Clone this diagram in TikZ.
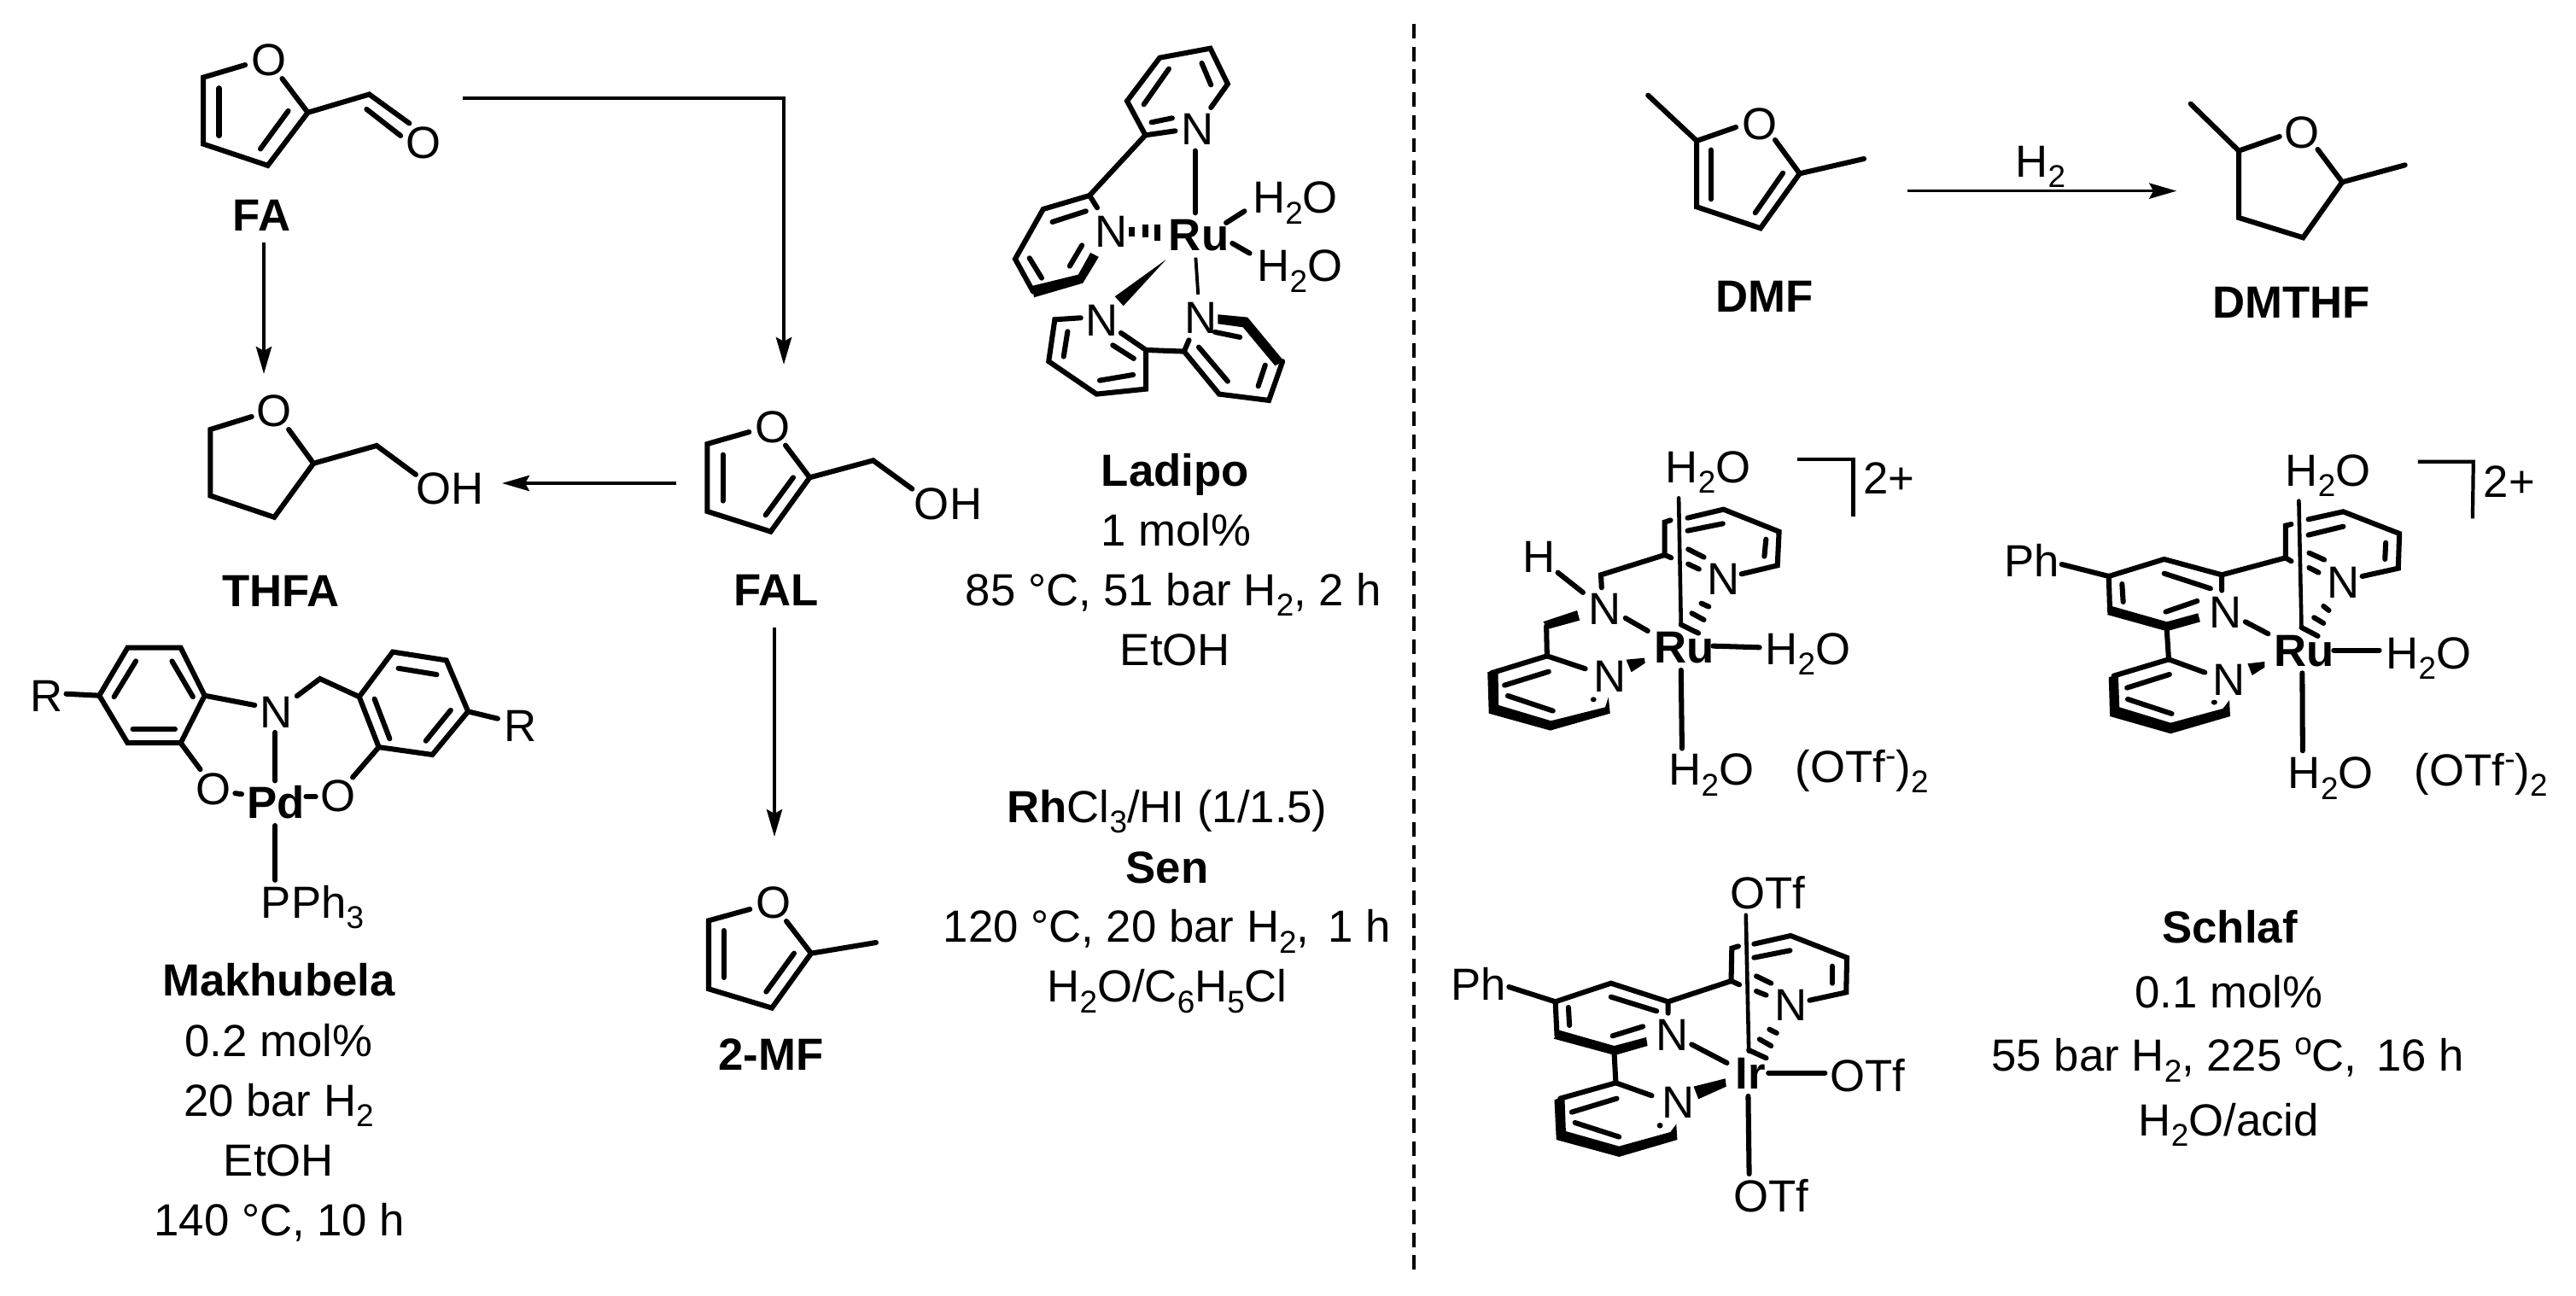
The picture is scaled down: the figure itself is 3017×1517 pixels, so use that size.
\documentclass[tikz,border=0pt]{standalone}
\usepackage{fontspec}
\setmainfont{Liberation Sans}
\usetikzlibrary{arrows.meta}
\newcommand{\sbs}[1]{\raisebox{-3.5pt}{\fontsize{10.5}{10.5}\selectfont #1}}
\newcommand{\sps}[1]{\raisebox{5.5pt}{\fontsize{10.5}{10.5}\selectfont #1}}
\tikzset{
  fr/.style n args={4}{shift={(#1,#2)},x={0.284528pt/#3},y={-0.284528pt/#4}},
  bnd/.style={line width=1.72pt,line cap=round,line join=miter},
  thn/.style={line width=1pt},
  rxn/.style={line width=1.05pt,-{Stealth[length=9.1pt,width=5.2pt,inset=1.4pt]}},
  lb/.style={inner sep=0pt,outer sep=0pt,anchor=base west,font=\fontsize{15}{18}\selectfont},
  lc/.style={inner sep=0pt,outer sep=0pt,anchor=base,font=\fontsize{15}{18}\selectfont},
  blk/.style={fill=black,draw=none},
  sep/.style={line width=1.3pt,dash pattern=on 4.8pt off 2.8pt}
}
\begin{document}
\begin{tikzpicture}[x=0.284528pt,y=-0.284528pt]
\path[use as bounding box,fill=white] (0,0) rectangle (3017,1517);

% separator
\coordinate (sepA) at (1656,28);
\coordinate (sepB) at (1656,1491);
\draw[sep] (sepA) -- (sepB);

% connectors
\coordinate (faOut) at (542,115);
\coordinate (faCorner) at (918,115);
\coordinate (falIn) at (918,427);
\coordinate (faDown) at (309,284);
\coordinate (thfaIn) at (309,438);
\coordinate (falLeft) at (792,566);
\coordinate (thfaOut) at (588,566);
\coordinate (falDown) at (907,735);
\coordinate (mfIn) at (907,980);
\draw[rxn] (faOut) -- (faCorner) -- (falIn);
\draw[rxn] (faDown) -- (thfaIn);
\draw[rxn] (falLeft) -- (thfaOut);
\draw[rxn] (falDown) -- (mfIn);

% FA / THFA
\begin{scope}[fr={0}{0}{1.96}{2.063}]
\draw[bnd] (563,157) -- (467,187) -- (467,348) -- (615,400) -- (707,272) -- (648,190);
\draw[bnd] (707,272) -- (848,228) -- (940,298);
\draw[bnd] (842,264) -- (920,328);
\draw[bnd] (503,213) -- (503,328);
\draw[bnd] (662,268) -- (598,360);
\node[lb] (faO) at (577,183) {O};
\node[lb] (faO2) at (933,383) {O};
\node[lb] (faL) at (535,558) {\bfseries FA};
\draw[bnd] (578,1007) -- (483,1038) -- (483,1198) -- (630,1250) -- (720,1120) -- (663,1038);
\draw[bnd] (720,1120) -- (865,1077) -- (955,1147);
\node[lb] (thO) at (590,1030) {O};
\node[lb] (thOH) at (956,1218) {OH};
\node[lc] (thL) at (645,1465) {\bfseries THFA};
\end{scope}

% Makhubela
\begin{scope}[fr={0}{740}{1.96}{2.036}]
\draw[bnd] (293,38) -- (415,38) -- (470,152) -- (415,265) -- (293,265) -- (228,152) -- cycle;
\draw[bnd] (395,70) -- (443,155);
\draw[bnd] (305,232) -- (402,232);
\draw[bnd] (312,70) -- (262,155);
\draw[bnd] (152,148) -- (228,152);
\draw[bnd] (470,152) -- (585,175);
\draw[bnd] (682,153) -- (735,112) -- (825,155);
\draw[bnd] (825,155) -- (902,48) -- (1025,68) -- (1075,190) -- (993,293) -- (870,275) -- cycle;
\draw[bnd] (915,87) -- (1003,102);
\draw[bnd] (1035,187) -- (978,260);
\draw[bnd] (860,160) -- (895,255);
\draw[bnd] (1075,190) -- (1143,207);
\draw[bnd] (415,265) -- (460,328);
\draw[bnd] (870,275) -- (810,347);
\draw[bnd] (632,240) -- (632,355);
\draw[bnd] (540,385) -- (555,387);
\draw[bnd] (703,393) -- (725,393);
\draw[bnd] (632,462) -- (632,592);
\node[lb] (mkR1) at (70,190) {R};
\node[lb] (mkR2) at (1158,262) {R};
\node[lb] (mkN) at (598,228) {N};
\node[lb] (mkO1) at (451,413) {O};
\node[lb] (mkO2) at (736,428) {O};
\node[lb] (mkPd) at (568,445) {\bfseries Pd};
\node[lb] (mkP) at (600,682) {PPh\sbs{3}};
\node[lc] (mkT1) at (640,868) {\bfseries Makhubela};
\node[lc] (mkT2) at (640,1012) {0.2 mol\%};
\node[lc] (mkT3) at (640,1155) {20 bar H\sbs{2}};
\node[lc] (mkT4) at (640,1297) {EtOH};
\node[lc] (mkT5) at (642,1440) {140 °C, 10 h};
\end{scope}

% FAL
\begin{scope}[fr={780}{400}{3}{3}]
\draw[bnd] (292,318) -- (145,360) -- (145,597) -- (368,668) -- (505,478) -- (420,365);
\draw[bnd] (505,478) -- (728,418) -- (865,518);
\draw[bnd] (200,398) -- (200,560);
\draw[bnd] (447,478) -- (350,610);
\node[lb] (falO) at (313,355) {O};
\node[lb] (falOH) at (873,625) {OH};
\node[lb] (falL) at (238,928) {\bfseries FAL};
\end{scope}

% 2-MF
\begin{scope}[fr={780}{800}{3}{3}]
\draw[bnd] (295,795) -- (150,835) -- (150,1075) -- (372,1142) -- (510,950) -- (423,837);
\draw[bnd] (510,950) -- (738,912);
\draw[bnd] (203,870) -- (203,1035);
\draw[bnd] (450,950) -- (352,1085);
\node[lb] (mfO) at (316,828) {O};
\node[lb] (mfL) at (185,1360) {\bfseries 2-MF};
\end{scope}

% Ladipo structure
\begin{scope}[fr={1120}{40}{2.8}{3}]
\draw[bnd] (718,340) -- (620,355) -- (560,235) -- (667,83) -- (833,50) -- (890,175) -- (835,258);
\draw[bnd] (697,122) -- (615,247);
\draw[bnd] (805,102) -- (835,178);
\draw[bnd] (640,310) -- (708,295);
\draw[bnd] (783,410) -- (783,628);
\draw[bnd] (620,355) -- (437,567);
\draw[bnd] (462,610) -- (437,567) -- (285,615) -- (193,790) -- (252,905);
\fill[blk] (248,885) -- (400,845) -- (440,768) -- (467,783) -- (415,875) -- (255,925) -- cycle;
\draw[bnd] (425,622) -- (315,660);
\draw[bnd] (240,787) -- (280,857);
\draw[bnd] (412,742) -- (372,815);
\draw[line width=1.9pt] (575,677) -- (575,710);
\draw[line width=1.9pt] (620,670) -- (620,715);
\draw[line width=1.9pt] (660,668) -- (660,725);
\draw[bnd] (885,663) -- (945,622);
\draw[bnd] (905,735) -- (962,770);
\fill[blk] (688,792) -- (520,922) -- (548,955) -- cycle;
\draw[thn,line width=1.1pt] (785,785) -- (793,915);
\draw[bnd] (408,997) -- (323,1003) -- (303,1150) -- (460,1265) -- (622,1247) -- (622,1110) -- (540,1050);
\draw[bnd] (365,1045) -- (352,1133);
\draw[bnd] (470,1217) -- (580,1197);
\draw[bnd] (582,1140) -- (513,1093);
\draw[bnd] (622,1110) -- (747,1115);
\draw[bnd] (763,1075) -- (747,1115) -- (862,1265) -- (1025,1287) -- (1070,1150);
\fill[blk] (858,985) -- (955,995) -- (1075,1150) -- (1045,1165) -- (940,1030) -- (858,1018) -- cycle;
\draw[bnd] (795,1100) -- (890,1220);
\draw[bnd] (1013,1163) -- (990,1237);
\draw[bnd] (848,1047) -- (930,1065);
\node[lb] (ldN1) at (738,390) {N};
\node[lb] (ldN2) at (455,750) {N};
\node[lb] (ldRu) at (697,762) {\bfseries Ru};
\node[lb] (ldW1) at (972,630) {H\sbs{2}O};
\node[lb] (ldW2) at (987,870) {H\sbs{2}O};
\node[lb] (ldN3) at (425,1062) {N};
\node[lb] (ldN4) at (748,1052) {N};
\end{scope}

% Ladipo text
\begin{scope}[fr={1100}{500}{2.703}{3}]
\node[lc] (ldT1) at (747,207) {\bfseries Ladipo};
\node[lc] (ldT2) at (750,418) {1 mol\%};
\node[lc] (ldT3) at (742,628) {85 °C, 51 bar H\sbs{2}, 2 h};
\node[lc] (ldT4) at (747,838) {EtOH};
\end{scope}

% Sen text
\begin{scope}[fr={1100}{900}{2.703}{3}]
\node[lc] (snT1) at (722,190) {\textbf{Rh}Cl\sbs{3}/HI (1/1.5)};
\node[lc] (snT2) at (722,402) {\bfseries Sen};
\node[lc] (snT3) at (722,612) {120 °C, 20 bar H\sbs{2},\hspace{0.15em} 1 h};
\node[lc] (snT4) at (722,822) {H\sbs{2}O/C\sbs{6}H\sbs{5}Cl};
\end{scope}

% DMF -> DMTHF
\begin{scope}[fr={1880}{60}{1.633}{3}]
\draw[bnd] (82,155) -- (175,315);
\draw[bnd] (250,267) -- (175,315) -- (175,547) -- (297,622) -- (372,430) -- (325,312);
\draw[bnd] (372,430) -- (495,378);
\draw[bnd] (202,347) -- (202,520);
\draw[bnd] (340,428) -- (287,568);
\node[lb] (dmO) at (262,310) {O};
\node[lc] (dmL) at (305,918) {\bfseries DMF};
\coordinate (dmOut) at (578,491);
\coordinate (dthIn) at (1093,491);
\draw[rxn] (dmOut) -- (dthIn);
\node[lb] (dmH) at (785,442) {H\sbs{2}};
\draw[bnd] (1120,185) -- (1212,350);
\draw[bnd] (1290,300) -- (1212,350) -- (1212,585) -- (1335,655) -- (1410,460) -- (1363,345);
\draw[bnd] (1410,460) -- (1530,400);
\node[lb] (dtO) at (1300,340) {O};
\node[lc] (dtL) at (1313,938) {\bfseries DMTHF};
\end{scope}

% Ru complex (left)
\begin{scope}[fr={1720}{500}{2.613}{3}]
\draw[bnd,line width=1.3pt] (643,250) -- (650,695);
\draw[bnd] (650,695) -- (703,725);
\draw[bnd] (618,328) -- (600,335) -- (600,450) -- (620,460);
\draw[bnd] (600,450) -- (405,520) -- (407,565);
\draw[bnd] (670,320) -- (780,290) -- (950,368) -- (945,487) -- (835,517);
\draw[bnd] (670,365) -- (778,340);
\draw[bnd] (910,395) -- (905,455);
\draw[bnd] (672,430) -- (720,458);
\draw[bnd] (672,482) -- (705,500);
\draw[bnd] (712,620) -- (735,632);
\draw[bnd] (683,655) -- (720,678);
\draw[bnd] (273,512) -- (350,582);
\draw[bnd] (480,672) -- (548,717);
\fill[blk] (228,685) -- (332,645) -- (340,680) -- (245,710) -- cycle;
\draw[bnd] (238,700) -- (240,805);
\draw[bnd] (240,805) -- (357,850);
\draw[bnd] (240,805) -- (70,865);
\fill[blk] (58,862) -- (62,1007) -- (250,1067) -- (433,1007) -- (428,950) -- (418,985) -- (252,1033) -- (92,978) -- (90,853) -- cycle;
\draw[bnd] (245,860) -- (110,908);
\draw[bnd] (120,945) -- (258,998);
\fill[blk] (382,958) circle [x radius=9,y radius=9];
\fill[blk] (482,818) -- (538,812) -- (540,830) -- (498,862) -- cycle;
\draw[bnd] (748,770) -- (890,775);
\draw[bnd] (650,855) -- (653,1130);
\draw[thn,line width=1.2pt] (1005,113) -- (1177,113) -- (1177,315);
\node[lb] (r1W1) at (603,195) {H\sbs{2}O};
\node[lb] (r1N1) at (730,590) {N};
\node[lb] (r1N2) at (367,695) {N};
\node[lb] (r1H) at (165,513) {H};
\node[lb] (r1N3) at (383,933) {N};
\node[lb] (r1Ru) at (567,830) {\bfseries Ru};
\node[lb] (r1W2) at (908,835) {H\sbs{2}O};
\node[lb] (r1W3) at (613,1260) {H\sbs{2}O};
\node[lb] (r1O) at (1000,1250) {(OTf\sps{-})\sbs{2}};
\node[lb] (r1C) at (1208,237) {2+};
\end{scope}

% Ru complex (right)
\begin{scope}[fr={2320}{500}{2.25}{3}]
\draw[bnd,line width=1.3pt] (838,260) -- (845,705);
\draw[bnd] (845,705) -- (888,735);
\draw[bnd] (818,342) -- (803,347) -- (803,460) -- (818,472);
\draw[bnd] (635,520) -- (803,460);
\draw[bnd] (213,483) -- (337,525);
\draw[bnd] (635,575) -- (635,520) -- (483,465) -- (337,525) -- (340,650);
\fill[blk] (333,660) -- (490,718) -- (578,685) -- (572,655) -- (490,685) -- (345,630) -- cycle;
\draw[bnd] (372,552) -- (375,615);
\draw[bnd] (483,515) -- (605,568);
\draw[bnd] (487,650) -- (570,612);
\draw[bnd] (697,685) -- (757,727);
\draw[bnd] (490,712) -- (495,817);
\draw[bnd] (495,817) -- (590,863);
\draw[bnd] (495,817) -- (350,875);
\fill[blk] (337,880) -- (340,1017) -- (500,1078) -- (657,1017) -- (655,960) -- (638,990) -- (500,1040) -- (365,985) -- (362,870) -- cycle;
\draw[bnd] (497,870) -- (385,917);
\draw[bnd] (387,957) -- (503,1008);
\fill[blk] (615,968) circle [x radius=8,y radius=9];
\fill[blk] (703,832) -- (748,825) -- (748,845) -- (715,873) -- cycle;
\draw[bnd] (930,785) -- (1050,785);
\draw[bnd] (847,865) -- (848,1138);
\draw[bnd] (863,325) -- (955,298) -- (1103,375) -- (1100,497) -- (1005,525);
\draw[bnd] (863,380) -- (955,350);
\draw[bnd] (1067,407) -- (1065,465);
\draw[bnd] (865,443) -- (905,467);
\draw[bnd] (865,495) -- (890,512);
\draw[bnd] (903,630) -- (917,645);
\draw[bnd] (878,670) -- (903,690);
\draw[thn,line width=1.2pt] (1152,122) -- (1298,122) -- (1296,322);
\node[lb] (r2W1) at (803,207) {H\sbs{2}O};
\node[lb] (r2C) at (1325,248) {2+};
\node[lb] (r2N1) at (912,603) {N};
\node[lb] (r2N2) at (601,707) {N};
\node[lb] (r2N3) at (610,945) {N};
\node[lb] (r2Ru) at (772,843) {\bfseries Ru};
\node[lb] (r2W2) at (1068,850) {H\sbs{2}O};
\node[lb] (r2W3) at (810,1272) {H\sbs{2}O};
\node[lb] (r2O) at (1143,1262) {(OTf\sps{-})\sbs{2}};
\node[lb] (r2Ph) at (61,528) {Ph};
\end{scope}

% Ir complex
\begin{scope}[fr={1680}{1000}{2.613}{3}]
\draw[bnd,line width=1.3pt] (953,215) -- (962,695);
\draw[bnd] (962,690) -- (1015,718);
\draw[bnd] (930,325) -- (910,332) -- (908,447) -- (933,460);
\draw[bnd] (715,520) -- (908,447);
\draw[bnd] (228,468) -- (370,520);
\draw[bnd] (715,560) -- (715,520) -- (540,455) -- (370,520) -- (375,640);
\fill[blk] (365,650) -- (552,708) -- (652,675) -- (648,645) -- (550,675) -- (382,620) -- cycle;
\draw[bnd] (410,540) -- (413,603);
\draw[bnd] (540,503) -- (680,553);
\draw[bnd] (545,640) -- (638,607);
\draw[bnd] (787,670) -- (895,735);
\draw[bnd] (550,700) -- (555,805);
\draw[bnd] (555,805) -- (665,850);
\draw[bnd] (555,805) -- (385,860);
\fill[blk] (367,865) -- (373,1005) -- (565,1065) -- (743,1005) -- (740,950) -- (722,978) -- (565,1028) -- (402,975) -- (398,850) -- cycle;
\draw[bnd] (558,860) -- (420,908);
\draw[bnd] (430,945) -- (565,995);
\fill[blk] (690,955) circle [x radius=9,y radius=10];
\fill[blk] (793,818) -- (890,790) -- (893,818) -- (808,862) -- cycle;
\draw[bnd] (1022,770) -- (1195,770);
\draw[bnd] (960,852) -- (963,1125);
\draw[bnd] (978,317) -- (1090,288) -- (1262,365) -- (1260,487) -- (1148,515);
\draw[bnd] (978,365) -- (1088,340);
\draw[bnd] (1217,395) -- (1217,455);
\draw[bnd] (985,430) -- (1030,455);
\draw[bnd] (985,483) -- (1015,497);
\draw[bnd] (1025,617) -- (1047,630);
\draw[bnd] (995,652) -- (1030,675);
\node[lb] (irO1) at (905,192) {OTf};
\node[lb] (irPh) at (50,513) {Ph};
\node[lb] (irN1) at (678,693) {N};
\node[lb] (irN2) at (695,930) {N};
\node[lb] (irN3) at (1040,588) {N};
\node[lb] (irIr) at (921,828) {\bfseries Ir};
\node[lb] (irO2) at (1210,835) {OTf};
\node[lb] (irO3) at (915,1258) {OTf};
\end{scope}

% Schlaf text
\begin{scope}[fr={2300}{1040}{2.529}{3}]
\node[lc] (slT1) at (788,192) {\bfseries Schlaf};
\node[lc] (slT2) at (785,420) {0.1 mol\%};
\node[lc] (slT3) at (782,645) {55 bar H\sbs{2}, 225 \raisebox{5.5pt}{\fontsize{10.5}{10.5}\selectfont o}C,\hspace{0.15em} 16 h};
\node[lc] (slT4) at (785,872) {H\sbs{2}O/acid};
\end{scope}
\end{tikzpicture}
\end{document}
